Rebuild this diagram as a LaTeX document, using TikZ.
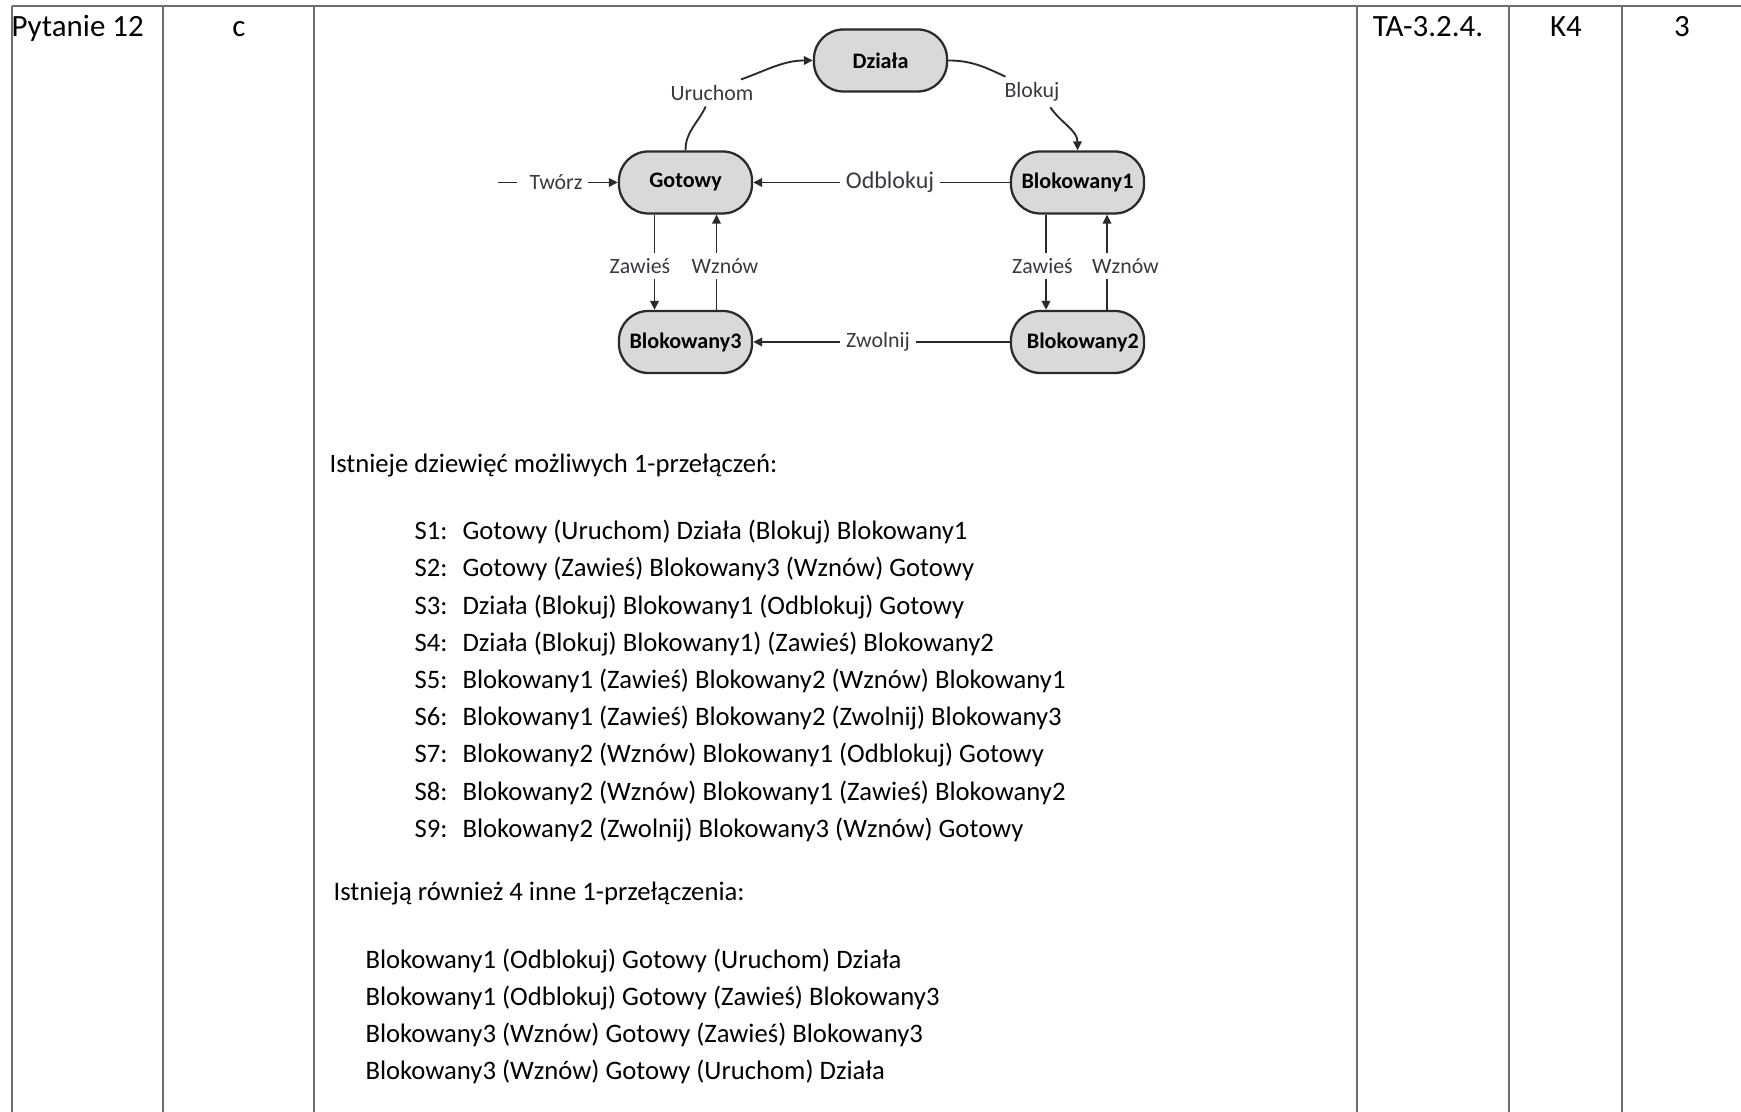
\documentclass[tikz,border=0pt]{standalone}
\usepackage{fontspec}
\setmainfont{Carlito}
\usetikzlibrary{arrows.meta,calc}

\definecolor{rulegray}{HTML}{6E6E6E}
\definecolor{statefill}{HTML}{D9D9D9}
\definecolor{linegray}{HTML}{2A2A2A}
\definecolor{labelgray}{HTML}{363A40}

\tikzset{
  state/.style={draw=linegray, line width=0.85pt, fill=statefill, rounded corners=11pt,
    minimum width=49.9pt, minimum height=23.25pt, inner sep=0pt,
    font=\fontsize{8.3}{10}\selectfont\bfseries},
  trans/.style={font=\fontsize{8.2}{9.8}\selectfont, text=labelgray, inner sep=2pt},
  wire/.style={draw=linegray, line width=0.7pt},
  arr/.style={wire, -{Triangle[length=3.4pt,width=3.2pt]}},
  cell/.style={anchor=base, inner sep=0pt, font=\fontsize{11.6}{14}\selectfont},
  body/.style={anchor=base west, inner sep=0pt, font=\fontsize{10}{12}\selectfont},
  rule/.style={draw=rulegray, line width=0.75pt}
}

\begin{document}
\begin{tikzpicture}[x=0.375pt, y=0.375pt]
  \useasboundingbox (0,0) rectangle (1741,1112);

  % table
  \draw[rule] (11.8,1106.3) -- (1741,1106.3);
  \foreach \cx in {12.3,163.3,314.3,1356.7,1509.3,1622}
    \draw[rule] (\cx,1106.3) -- (\cx,0);

  \node[cell, anchor=base west] (pyt) at (11,1075.3) {Pytanie 12};
  \node[cell] (ans) at (238.8,1075.3) {c};
  \node[cell] (code) at (1428,1075.3) {TA-3.2.4.};
  \node[cell] (lvl) at (1566,1075.3) {K4};
  \node[cell] (pts) at (1682,1075.3) {3};

  % states
  \node[state] (dziala) at (880.5,1051.5) {Działa};
  \node[state] (gotowy) at (685.5,929.5) {Gotowy};
  \node[state] (blok1) at (1077.5,929.5) {Blokowany1};
  \node[state] (blok2) at (1077.5,770) {\hspace{4pt}Blokowany2};
  \node[state] (blok3) at (685.5,770) {Blokowany3};

  % transitions
  \node[trans] (tworz) at (556,929.5) {Twórz};
  \coordinate (twstart) at (498,929.5);
  \coordinate (twend) at (517,929.5);
  \draw[wire] (twstart) -- (twend);
  \draw[arr] (tworz.east) -- (gotowy.west);

  \node[trans] (uruchom) at (712,1019) {Uruchom};
  \draw[wire] (gotowy.north) to[out=90,in=245] (uruchom.245);
  \draw[arr] (uruchom.25) to[out=20,in=180] (dziala.west);

  \node[trans] (blokuj) at (1032,1020) {Blokuj};
  \draw[wire] (dziala.east) to[out=0,in=155] (blokuj.150);
  \draw[arr] (blokuj.-40) to[out=-55,in=90] (blok1.north);

  \node[trans, font=\fontsize{9}{11}\selectfont] (odblokuj) at (890,929.5) {Odblokuj};
  \draw[wire] (blok1.west) -- (odblokuj.east);
  \draw[arr] (odblokuj.west) -- (gotowy.east);

  \node[trans] (zwolnij) at (878,770) {Zwolnij};
  \draw[wire] (blok2.west) -- (zwolnij.east);
  \draw[arr] (zwolnij.west) -- (blok3.east);

  \node[trans] (zawg) at (640,846) {Zawieś};
  \node[trans] (wzng) at (725,846) {Wznów};
  \coordinate (gz) at ($(gotowy.south)+(-31,0)$);
  \coordinate (gw) at ($(gotowy.south)+(31,0)$);
  \draw[wire] (gz) -- (gz |- zawg.north);
  \draw[arr] (gz |- zawg.south) -- (gz |- blok3.north);
  \draw[wire] (gw |- blok3.north) -- (gw |- wzng.south);
  \draw[arr] (gw |- wzng.north) -- (gw);

  \node[trans] (zawb) at (1042.5,846) {Zawieś};
  \node[trans] (wznb) at (1125.5,846) {Wznów};
  \coordinate (bz) at ($(blok1.south)+(-31.5,0)$);
  \coordinate (bw) at ($(blok1.south)+(29.5,0)$);
  \draw[wire] (bz) -- (bz |- zawb.north);
  \draw[arr] (bz |- zawb.south) -- (bz |- blok2.north);
  \draw[wire] (bw |- blok2.north) -- (bw |- wznb.south);
  \draw[arr] (bw |- wznb.north) -- (bw);

  % text below
  \node[body] (intro) at (329,639) {Istnieje dziewięć możliwych 1-przełączeń:};
  \foreach \line [count=\i] in {
      {Gotowy (Uruchom) Działa (Blokuj) Blokowany1},
      {Gotowy (Zawieś) Blokowany3 (Wznów) Gotowy},
      {Działa (Blokuj) Blokowany1 (Odblokuj) Gotowy},
      {Działa (Blokuj) Blokowany1) (Zawieś) Blokowany2},
      {Blokowany1 (Zawieś) Blokowany2 (Wznów) Blokowany1},
      {Blokowany1 (Zawieś) Blokowany2 (Zwolnij) Blokowany3},
      {Blokowany2 (Wznów) Blokowany1 (Odblokuj) Gotowy},
      {Blokowany2 (Wznów) Blokowany1 (Zawieś) Blokowany2},
      {Blokowany2 (Zwolnij) Blokowany3 (Wznów) Gotowy}} {
    \node[body] (s\i) at (414,{572.2-37.2*(\i-1)}) {S\i:};
    \node[body] (t\i) at (462,{572.2-37.2*(\i-1)}) {\line};
  }

  \node[body] (intro2) at (333,211) {Istnieją również 4 inne 1-przełączenia:};
  \foreach \line [count=\i] in {
      {Blokowany1 (Odblokuj) Gotowy (Uruchom) Działa},
      {Blokowany1 (Odblokuj) Gotowy (Zawieś) Blokowany3},
      {Blokowany3 (Wznów) Gotowy (Zawieś) Blokowany3},
      {Blokowany3 (Wznów) Gotowy (Uruchom) Działa}}
    \node[body] (o\i) at (365,{143.5-37*(\i-1)}) {\line};
\end{tikzpicture}
\end{document}
